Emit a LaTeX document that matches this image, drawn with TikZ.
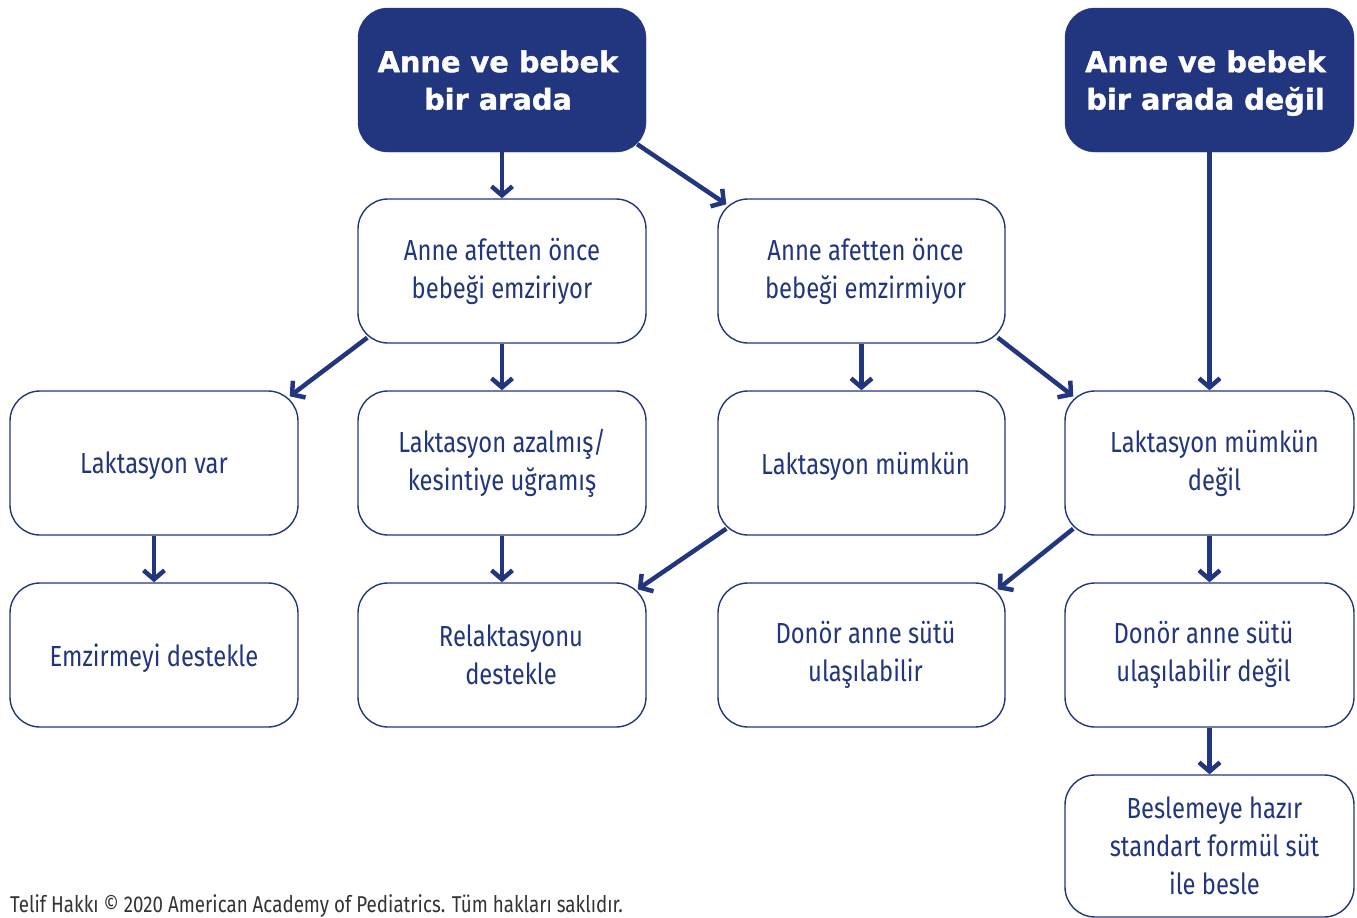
\documentclass[tikz,border=0pt]{standalone}
\usepackage{fontspec}
\usetikzlibrary{arrows.meta,calc}
\newfontfamily\bodyfont{Fira Sans}[FakeStretch=0.82]
\newfontfamily\headfont{DejaVu Sans Bold}[FakeBold=1.3]
\definecolor{navy}{HTML}{22367F}
\begin{document}
\begin{tikzpicture}[x=1pt,y=-1pt,
  box/.style={draw=navy,line width=1.4pt,rounded corners=30pt,fill=white,
    minimum width=288pt,minimum height=144pt,inner sep=0pt,align=center,
    text=navy,font=\bodyfont\fontsize{29}{38}\selectfont},
  single/.style={text depth=0pt},
  headbox/.style={fill=navy,draw=navy,rounded corners=30pt,
    minimum width=288pt,minimum height=144pt,inner sep=0pt,align=center,
    text=white,text depth=0pt,font=\headfont\fontsize{28.8}{37.5}\selectfont},
  arr/.style={draw=navy,line width=4.5pt,-{Straight Barb[length=9pt,width=21pt,line width=4.5pt]}},
  ]
\useasboundingbox (0,0) rectangle (1357,918);
% header boxes
\node[headbox] (top1) at (502,80) {Anne ve bebek\hspace*{8pt}\\bir arada\hspace*{8pt}};
\node[headbox,minimum width=289pt] (top2) at (1209.5,80) {Anne ve bebek\hspace*{8pt}\\bir arada değil\hspace*{8pt}};
% row 2
\node[box] (b2a) at (502,271) {Anne afetten önce\\bebeği emziriyor};
\node[box,minimum width=287pt] (b2b) at (861.5,271) {\hspace*{8pt}Anne afetten önce\\\hspace*{8pt}bebeği emzirmiyor};
% row 3
\node[box,single] (r3a) at (154,463) {Laktasyon var};
\node[box] (r3b) at (502,463) {Laktasyon azalmış/\\kesintiye uğramış};
\node[box,single,minimum width=287pt] (r3c) at (861.5,463) {\hspace*{8pt}Laktasyon mümkün};
\node[box,minimum width=289pt] (r3d) at (1209.5,463) {\hspace*{10pt}Laktasyon mümkün\\\hspace*{10pt}değil};
% row 4
\node[box,single] (r4a) at (154,655) {Emzirmeyi destekle};
\node[box] (r4b) at (502,655) {\hspace*{18pt}Relaktasyonu\\\hspace*{18pt}destekle};
\node[box,minimum width=287pt] (r4c) at (861.5,655) {\hspace*{8pt}Donör anne sütü\\\hspace*{8pt}ulaşılabilir};
\node[box,minimum width=289pt] (r4d) at (1209.5,655) {Donör anne sütü\hspace*{12pt}\\ulaşılabilir değil\hspace*{12pt}};
% row 5
\node[box,minimum width=289pt,minimum height=142pt] (r5) at (1209.5,846) {\hspace*{10pt}Beslemeye hazır\\\hspace*{10pt}standart formül süt\\\hspace*{10pt}ile besle};
% footer
\node[anchor=base west,inner sep=0pt,text=black!80,font=\bodyfont\fontsize{22.9}{27}\selectfont] (foot) at (10,912) {Telif Hakkı © 2020 American Academy of Pediatrics. Tüm hakları saklıdır.};
% arrows
\draw[arr] (top1.south) -- (b2a.north);
\draw[arr] ($(top1.south east)+(-9,-8)$) -- ($(b2b.north west)+(9,6)$);
\draw[arr] (top2.south) -- (r3d.north);
\draw[arr] (b2a.south) -- (r3b.north);
\draw[arr] ($(b2a.south west)+(10,-6)$) -- ($(r3a.north east)+(-9,6)$);
\draw[arr] (b2b.south) -- (r3c.north);
\draw[arr] ($(b2b.south east)+(-8,-6)$) -- ($(r3d.north west)+(9,6)$);
\draw[arr] (r3a.south) -- (r4a.north);
\draw[arr] (r3b.south) -- (r4b.north);
\draw[arr] ($(r3c.south west)+(9,-7)$) -- ($(r4b.north east)+(-9,7)$);
\draw[arr] ($(r3d.south west)+(9,-7)$) -- ($(r4c.north east)+(-8,7)$);
\draw[arr] (r3d.south) -- (r4d.north);
\draw[arr] (r4d.south) -- (r5.north);
\end{tikzpicture}
\end{document}
